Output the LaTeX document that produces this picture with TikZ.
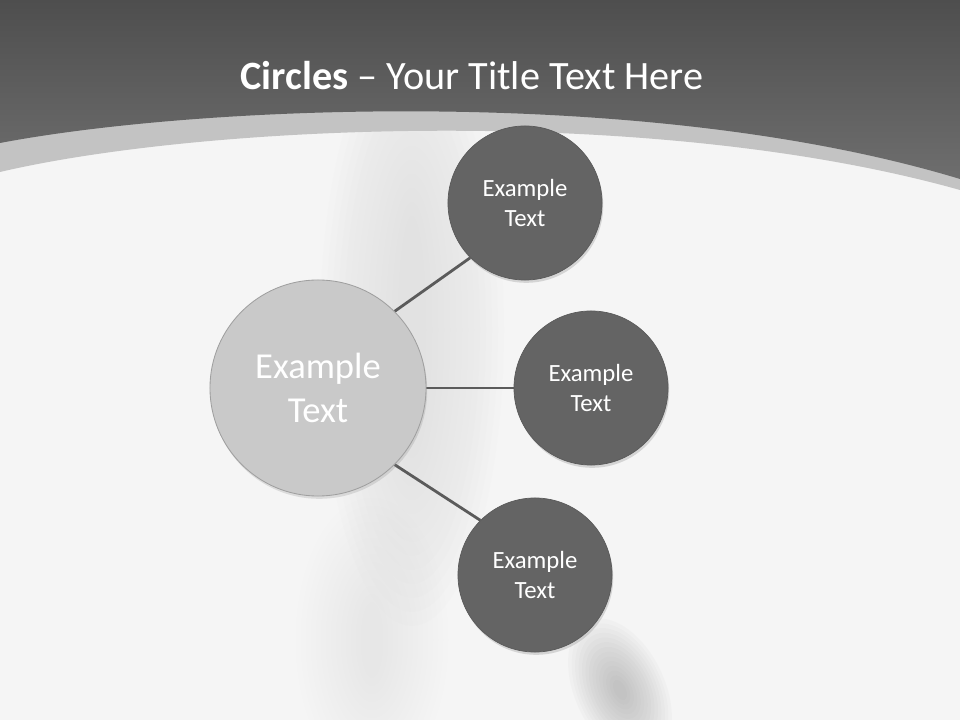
\documentclass[tikz,border=0pt]{standalone}
\usepackage{fontspec}
\setmainfont{Carlito}
\usetikzlibrary{shadows,backgrounds}
\definecolor{bgwhite}{HTML}{F5F5F5}
\definecolor{streakgray}{HTML}{B8B8B8}
\definecolor{blobgray}{HTML}{8E8E8E}
\definecolor{bandgray}{HTML}{C3C3C3}
\definecolor{topdark}{HTML}{4E4E4E}
\definecolor{topmid}{HTML}{6E6E6E}
\definecolor{smallfill}{HTML}{646464}
\definecolor{smallrim}{HTML}{727272}
\definecolor{bigfill}{HTML}{C9C9C9}
\definecolor{bigdip}{HTML}{C2C2C2}
\definecolor{bigrim}{HTML}{E2E2E2}
\definecolor{linkgray}{HTML}{5B5B5B}
\pgfdeclareradialshading{bigbevel}{\pgfpointorigin}{color(0bp)=(bigfill); color(43bp)=(bigfill); color(46bp)=(bigdip); color(48.5bp)=(bigrim); color(50bp)=(bigrim)}
\pgfdeclareradialshading{smallbevel}{\pgfpointorigin}{color(0bp)=(smallfill); color(44bp)=(smallfill); color(48bp)=(smallrim); color(50bp)=(smallrim)}

\begin{document}
\begin{tikzpicture}[x=0.025cm,y=-0.025cm,
  bigcircle/.style={circle,minimum size=5.4cm,inner sep=0pt,shading=bigbevel,draw=gray!75,line width=0.6pt,text=white,align=center,font=\fontsize{26}{31}\selectfont,drop shadow={opacity=0.22,shadow xshift=0.3mm,shadow yshift=-0.7mm}},
  smallcircle/.style={circle,minimum size=3.85cm,inner sep=0pt,shading=smallbevel,draw=smallfill!90!black,line width=0.5pt,text=white,align=center,font=\fontsize{17.6}{21}\selectfont,drop shadow={opacity=0.28,shadow xshift=0.3mm,shadow yshift=-0.7mm}},
  link/.style={draw=linkgray,line width=2pt}]
  \useasboundingbox (0,0) rectangle (960,720);
  \begin{scope}[on background layer]
    % slide background
    \fill[bgwhite] (0,0) rectangle (960,720);
    \foreach \k in {1,...,14} {
      \fill[streakgray,opacity=0.018] (412,330) ellipse [x radius=8+6*\k,y radius=100+14*\k];
      \fill[streakgray,opacity=0.014] (372,640) ellipse [x radius=6+5*\k,y radius=30+8*\k];
    }
    \foreach \k in {1,...,14} {
      \fill[blobgray,opacity=0.04,rotate around={25:(620,690)}] (620,690) ellipse [x radius=3+3*\k,y radius=6+5*\k];
    }
    % header band
    \fill[bandgray] (0,0) -- (0,172) .. controls (200,125) and (650,103) .. (960,190) -- (960,0) -- cycle;
    \shade[top color=topdark,bottom color=topmid] (0,0) -- (0,143) .. controls (200,105) and (650,85) .. (960,179) -- (960,0) -- cycle;
  \end{scope}

  \node[text=white,font=\fontsize{28.6}{34}\selectfont] (title) at (472,76) {\textbf{Circles} – Your Title Text Here};

  \node[bigcircle] (hub) at (318,388) {Example\\Text};
  \node[smallcircle] (upper) at (525,203) {Example\\Text};
  \node[smallcircle] (middle) at (591,388) {Example\\Text};
  \node[smallcircle] (lower) at (535,575) {Example\\Text};

  \begin{scope}[on background layer]
    \draw[link] (hub.north east) -- (upper.south west);
    \draw[link] (hub.east) -- (middle.west);
    \draw[link] (hub.south east) -- (lower.north west);
  \end{scope}
\end{tikzpicture}
\end{document}
